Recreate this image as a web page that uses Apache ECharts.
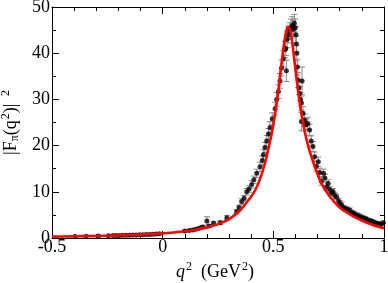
<!DOCTYPE html>
<html><head><meta charset="utf-8">
<script src="https://cdn.jsdelivr.net/npm/echarts@6/dist/echarts.min.js"></script>
<style>html,body{margin:0;padding:0;background:#fff}#c{width:388px;height:283px}</style>
</head><body><div id="c"></div>
<script>
// Red model curve |F_pi(q^2)|^2
const curveQ2 = [-0.5,-0.4,-0.3,-0.2,-0.1,0,0.05,0.1,0.15,0.2,0.25,0.3,0.35,0.4,0.42,0.44,0.46,0.48,0.5,0.52,0.535,0.55,0.56,0.566,0.575,0.585,0.595,0.605,0.62,0.64,0.66,0.68,0.7,0.72,0.75,0.8,0.85,0.9,0.95,1.0];
const curveFF = [0.3,0.36,0.44,0.56,0.74,1.0,1.2,1.45,1.8,2.3,3.0,4.1,6.0,9.0,10.5,12.8,15.8,19.8,24.5,31,37,42.5,45,45.7,45.2,42.5,38.5,34.5,29,23.5,19.5,16.5,13.8,11.6,9.3,6.6,5.0,3.8,2.8,2.1];

// Experimental points
const dataQ2 = [-0.395,-0.345,-0.29,-0.245,-0.225,-0.21,-0.195,-0.18,-0.165,-0.15,-0.135,-0.12,-0.105,-0.09,-0.075,-0.06,-0.045,-0.03,-0.015,
  0.10,0.12,0.135,0.15,0.165,0.18,0.20,0.21,0.23,0.26,0.29,0.334,0.345,0.357,0.368,0.38,0.39,0.402,0.412,0.425,0.44,0.45,0.455,0.462,0.47,0.478,0.485,0.495,0.508,0.515,0.523,0.53,0.537,0.545,0.553,0.556,0.559,0.562,0.568,0.574,0.58,0.585,0.59,0.595,0.599,0.602,0.604,0.606,0.609,0.612,0.616,0.619,0.623,0.627,0.630,0.634,0.627,0.641,0.648,0.656,0.664,0.671,0.679,0.687,0.694,0.703,0.71,0.717,0.727,0.733,0.74,0.748,0.755,0.763,0.77,0.778,0.786,0.795,0.80,0.808,0.816,0.825,0.835,0.846,0.855,0.865,0.875,0.884,0.895,0.905,0.915,0.922,0.935,0.945,0.955,0.967,0.978,0.988,0.997];
const dataFF = [0.33,0.38,0.45,0.50,0.52,0.54,0.56,0.58,0.60,0.62,0.64,0.67,0.70,0.72,0.75,0.78,0.82,0.86,0.90,
  1.5,1.6,1.75,1.9,2.1,2.4,3.7,2.6,3.2,3.3,4.4,5.7,6.6,7.9,8.6,10.0,10.6,11.6,12.6,14.0,15.4,16.8,18.0,19.6,21.0,22.5,23.9,25.8,28.0,30.0,31.7,34.0,36.8,38.8,40.8,41.0,36.2,43.0,44.0,44.8,45.5,46.0,45.2,46.5,45.5,44.0,42.0,40.0,37.0,34.2,32.5,31.3,30.0,29.2,34.0,27.0,25.2,25.5,24.5,24.8,23.4,21.0,19.8,17.6,15.5,16.5,14.2,12.3,14.0,13.0,11.1,11.8,10.5,9.8,10.0,9.2,8.9,8.0,7.5,7.2,6.6,6.4,6.2,6.0,5.5,5.3,5.0,4.8,4.6,4.4,4.2,4.0,3.8,3.6,3.4,3.2,3.1,3.0,3.3];
const dataErr = [0.03,0.03,0.03,0.03,0.03,0.03,0.03,0.03,0.03,0.03,0.03,0.03,0.03,0.03,0.03,0.03,0.03,0.03,0.03,
  0.2,0.2,0.2,0.25,0.25,0.3,0.9,0.3,0.4,0.4,0.5,0.5,0.5,0.6,0.6,0.7,0.7,0.8,0.8,0.9,1.0,1.0,1.1,1.1,1.2,1.2,1.3,1.3,1.4,1.5,1.5,1.6,1.7,1.8,1.8,1.5,2.3,1.8,1.8,1.8,1.9,1.9,1.9,1.9,1.9,1.8,1.8,1.7,1.7,1.6,1.5,1.5,1.5,1.5,3.0,1.4,2.0,1.3,1.3,1.3,1.2,1.1,1.1,1.0,1.0,1.0,0.9,0.9,0.9,0.8,0.8,0.8,0.7,0.7,0.7,0.7,0.6,0.6,0.6,0.6,0.5,0.5,0.5,0.5,0.5,0.5,0.5,0.5,0.4,0.4,0.4,0.4,0.4,0.4,0.4,0.4,0.4,0.4,0.4];

const xTicks = [-0.5, 0, 0.5, 1];
const yTicks = [0, 10, 20, 30, 40, 50];

const font = 'Liberation Serif';
const chart = echarts.init(document.getElementById('c'), null, {renderer: 'canvas'});

const curve = curveQ2.map((q, i) => [q, curveFF[i]]);
const pts = dataQ2.map((q, i) => [q, dataFF[i], dataErr[i]]);

const tickCommon = {
  axisLine: {show: true, onZero: false, lineStyle: {color: '#000', width: 1}},
  splitLine: {show: false},
  axisTick: {show: true, inside: true, length: 7, lineStyle: {color: '#000'}},
};

chart.setOption({
  animation: false,
  backgroundColor: '#fff',
  grid: {left: 52, right: 4, top: 7, bottom: 45, show: false, containLabel: false, outerBoundsMode: 'none'},
  xAxis: [{
    type: 'value', min: xTicks[0], max: xTicks[xTicks.length - 1], interval: 0.5,
    position: 'bottom',
    ...tickCommon,
    minorTick: {show: true, splitNumber: 5, length: 4, lineStyle: {color: '#000'}},
    axisLabel: {show: true, margin: 0, color: '#000', fontFamily: font, fontSize: 18,
      formatter: v => String(v)},
    name: '{q|q}{sup|2}{n|  (GeV}{sup|2}{n|)}',
    nameLocation: 'middle', nameGap: 6,
    nameTextStyle: {
      padding: [0, 6, 0, 0],
      rich: {
        q: {fontFamily: font, fontStyle: 'italic', fontSize: 18, color: '#000'},
        n: {fontFamily: font, fontSize: 18, color: '#000'},
        sup: {fontFamily: font, fontSize: 12, color: '#000', padding: [0, 0, 10, 1]}
      }
    }
  }, {
    type: 'value', min: xTicks[0], max: xTicks[xTicks.length - 1], interval: 0.5,
    position: 'top',
    ...tickCommon,
    minorTick: {show: true, splitNumber: 5, length: 4, lineStyle: {color: '#000'}},
    axisLabel: {show: false}
  }],
  yAxis: [{
    type: 'value', min: yTicks[0], max: yTicks[yTicks.length - 1], interval: 10,
    position: 'left',
    ...tickCommon,
    minorTick: {show: true, splitNumber: 2, length: 4, lineStyle: {color: '#000'}},
    axisLabel: {show: true, margin: 2, color: '#000', fontFamily: font, fontSize: 18},
    name: '{n||F}{sub|π}{n|(q}{sup|2}{n|)|}  {sup|2}',
    nameLocation: 'middle', nameGap: 27, nameRotate: 90,
    nameTextStyle: {
      rich: {
        n: {fontFamily: font, fontSize: 18, color: '#000'},
        sub: {fontFamily: font, fontSize: 12, color: '#000', padding: [8, 0, 0, 0]},
        sup: {fontFamily: font, fontSize: 12, color: '#000', padding: [0, 0, 10, 1]}
      }
    }
  }, {
    type: 'value', min: yTicks[0], max: yTicks[yTicks.length - 1], interval: 10,
    position: 'right',
    ...tickCommon,
    minorTick: {show: true, splitNumber: 2, length: 4, lineStyle: {color: '#000'}},
    axisLabel: {show: false}
  }],
  series: [{
    type: 'custom',
    xAxisIndex: 0, yAxisIndex: 0,
    clip: true,
    data: pts,
    z: 2,
    renderItem: function (params, api) {
      const x = api.value(0), y = api.value(1), e = api.value(2);
      const hi = api.coord([x, y + e]);
      const lo = api.coord([x, y - e]);
      const hw = 3;
      const st = {stroke: '#8a8a8a', lineWidth: 1};
      return {type: 'group', children: [
        {type: 'line', shape: {x1: hi[0], y1: hi[1], x2: lo[0], y2: lo[1]}, style: st},
        {type: 'line', shape: {x1: hi[0] - hw, y1: hi[1], x2: hi[0] + hw, y2: hi[1]}, style: st},
        {type: 'line', shape: {x1: lo[0] - hw, y1: lo[1], x2: lo[0] + hw, y2: lo[1]}, style: st}
      ]};
    }
  }, {
    type: 'scatter',
    data: pts.map(p => [p[0], p[1]]),
    symbol: 'circle', symbolSize: 5,
    itemStyle: {color: '#000'},
    z: 3
  }, {
    type: 'line',
    data: curve,
    smooth: 0.3,
    showSymbol: false,
    lineStyle: {color: '#ff0000', width: 2.6},
    z: 4
  }]
});
</script>
</body></html>
